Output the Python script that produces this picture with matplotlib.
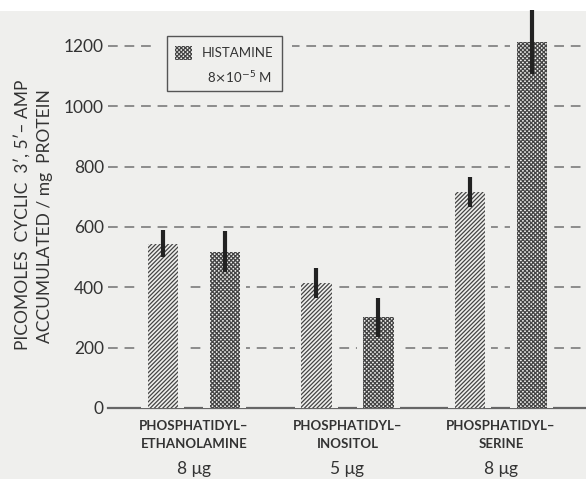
import numpy as np
import matplotlib.pyplot as plt
from matplotlib.patches import Rectangle

# data
groups = ["PHOSPHATIDYL\u2013\nETHANOLAMINE", "PHOSPHATIDYL\u2013\nINOSITOL",
          "PHOSPHATIDYL\u2013\nSERINE"]
doses = ["8 \u03bcg", "5 \u03bcg", "8 \u03bcg"]
control = [545, 415, 715]
control_err = [45, 50, 50]
histamine = [518, 300, 1213]
histamine_err = [68, 65, 105]
yticks = [0, 200, 400, 600, 800, 1000, 1200]

bg = "#efefed"
ink = "#333333"
plt.rcParams["font.family"] = ["Lato", "DejaVu Sans"]
plt.rcParams["hatch.linewidth"] = 0.9

fig = plt.figure(figsize=(5.86, 4.79), dpi=100)
fig.patch.set_facecolor("white")
fig.patches.append(Rectangle((0, 0), 1, 1 - 11 / 479, transform=fig.transFigure,
                             facecolor=bg, edgecolor="none", zorder=-10))

ax = fig.add_axes([108 / 586, 71 / 479, 478 / 586, 397 / 479])
ax.set_facecolor("none")
x = np.arange(len(groups))
off = 0.202
w = 0.2
pad = 0.04

# dashed grid + solid baseline
for yv in yticks[1:]:
    ax.axhline(yv, color="#8c8c8c", lw=1.4, ls=(0, (5, 3.5)), zorder=1)
ax.axhline(0, color="#666666", lw=1.6, zorder=1, clip_on=False)

for xs, vals, errs, hatch in [(x - off, control, control_err, "////////"),
                              (x + off, histamine, histamine_err, "xxxxxxxx")]:
    # blank margin around each bar that interrupts the grid
    ax.bar(xs, np.array(vals) + 8, width=w + 2 * pad, bottom=-8, color=bg,
           edgecolor="none", zorder=2)
    ax.bar(xs, vals, width=w, color="none", edgecolor="#444444", linewidth=0,
           hatch=hatch, zorder=3)
    ax.errorbar(xs, vals, yerr=errs, fmt="none", ecolor="#222222",
                elinewidth=3, capsize=0, zorder=4, clip_on=False)

ax.set_xlim(-0.56, 2.554)
ax.set_ylim(0, 1316)
ax.set_yticks(yticks)
ax.set_yticklabels([str(v) for v in yticks], fontsize=12.5, color=ink)
ax.tick_params(axis="y", length=0, pad=3)
ax.set_xticks([])
for s in ax.spines.values():
    s.set_visible(False)

for xi, name, dose in zip(x, groups, doses):
    ax.text(xi, -40, name, ha="center", va="top", fontsize=9.5,
            fontweight="bold", color=ink, linespacing=1.6)
    ax.text(xi, -203, dose, ha="center", va="center", fontsize=12.5,
            color=ink)

# legend box
ax.add_patch(Rectangle((0.098, 0.78), 0.287, 0.18, transform=ax.transAxes,
                       facecolor=bg, edgecolor="none", zorder=5))
ax.add_patch(Rectangle((0.123, 0.798), 0.241, 0.139, transform=ax.transAxes,
                       facecolor=bg, edgecolor="#555555", lw=1.0, zorder=6))
ax.add_patch(Rectangle((0.140, 0.877), 0.036, 0.035, transform=ax.transAxes,
                       facecolor="none", edgecolor="#444444", lw=0,
                       hatch="xxxxxxxx", zorder=7))
ax.text(0.197, 0.894, "HISTAMINE", transform=ax.transAxes, fontsize=9.5,
        color=ink, va="center", ha="left", zorder=7)
ax.text(0.207, 0.831, r"8$\times$10$^{-5}$ M", transform=ax.transAxes,
        fontsize=9.5, color=ink, va="center", ha="left", zorder=7)

fig.text(22 / 586, 1 - 215 / 479, "PICOMOLES  CYCLIC  3\u2032, 5\u2032\u2013 AMP",
         rotation=90, ha="center", va="center", fontsize=12.5, color=ink)
fig.text(45 / 586, 1 - 216 / 479, "ACCUMULATED / mg  PROTEIN",
         rotation=90, ha="center", va="center", fontsize=12.5, color=ink)

fig.savefig("out.png", dpi=100, facecolor=fig.get_facecolor())
